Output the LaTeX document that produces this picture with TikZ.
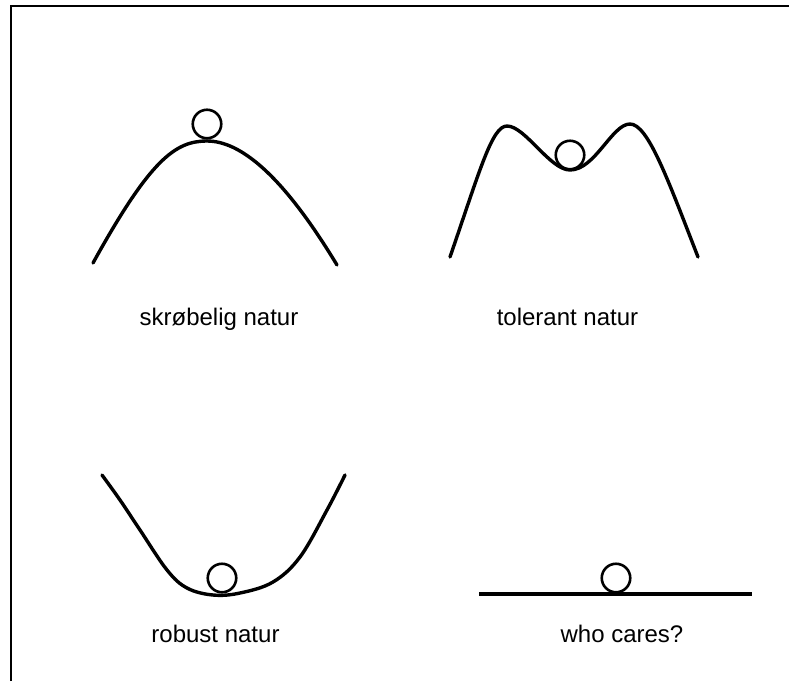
\documentclass[tikz,border=0pt]{standalone}
\usepackage{fontspec}
\setmainfont{Liberation Sans}
\begin{document}
\begin{tikzpicture}[x=1pt,y=-1pt,
  curve/.style={line width=3.4pt,line cap=round,line join=round},
  ball/.style={circle,draw,line width=2.6pt,minimum size=28.5pt,inner sep=0pt},
  lbl/.style={anchor=base,font=\fontsize{24}{28}\selectfont,inner sep=0pt}]
\useasboundingbox (0,0) rectangle (789,681);
% frame
\draw[line width=2pt] (11,681) -- (11,6) -- (789,6);
% skrobelig
\draw[curve] (93,263) .. controls (150,160) and (175,141) .. (207,141)
  .. controls (240,141) and (282,174) .. (337,265);
\node[ball] (b1) at (207,124) {};
\node[lbl] (t1) at (219,325) {skrøbelig natur};
% tolerant
\draw[curve] (450,257) .. controls (480,170) and (492,126) .. (507,126)
  .. controls (525,126) and (550,170) .. (570,170)
  .. controls (595,170) and (612,124) .. (630,124)
  .. controls (648,124) and (668,180) .. (698,257);
\node[ball] (b2) at (570,155) {};
\node[lbl] (t2) at (567.5,325) {tolerant natur};
% robust
\draw[curve] plot[smooth,tension=0.6] coordinates {(102,475) (120,500) (140,530) (167,570) (187,588) (213,595) (240,593) (273,582) (300,557) (327,510) (345,475)};
\node[ball] (b3) at (222,578) {};
\node[lbl] (t3) at (215.5,642) {robust natur};
% who cares
\draw[line width=4pt] (479,594) -- (752,594);
\node[ball] (b4) at (616,578) {};
\node[lbl] (t4) at (622,642) {who cares?};
\end{tikzpicture}
\end{document}
